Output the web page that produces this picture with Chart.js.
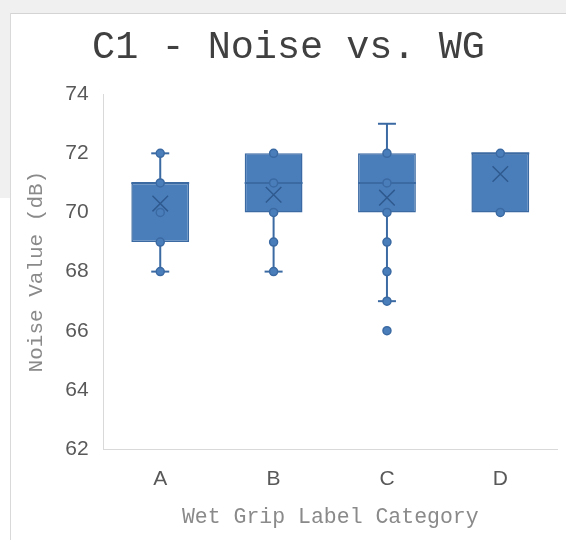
<!DOCTYPE html>
<html>
<head>
<meta charset="utf-8">
<script src="https://cdn.jsdelivr.net/npm/chart.js@4"></script>
<style>
  html, body { margin: 0; padding: 0; width: 566px; height: 540px; overflow: hidden; background: #ffffff; }
  .topband { position: absolute; left: 0; top: 0; width: 566px; height: 13px; background: #f0f0f0; border-bottom: 1px solid #d4d4d4; }
  .leftband { position: absolute; left: 0; top: 0; width: 10px; height: 198px; background: #f0f0f0; }
  .leftedge { position: absolute; left: 10px; top: 13px; width: 1px; height: 527px; background: #d9d9d9; }
  .chartbox { position: absolute; left: 0; top: 0; width: 566px; height: 540px; }
</style>
</head>
<body>
<div class="topband"></div>
<div class="leftband"></div>
<div class="leftedge"></div>
<div class="chartbox"><canvas id="boxChart"></canvas></div>
<script>
const categories = ['A', 'B', 'C', 'D']
const q1 = [69, 70, 70, 70]
const q3 = [71, 72, 72, 72]
const medians = [71, 71, 71, 72]
const whiskerLow = [68, 68, 67, 70]
const whiskerHigh = [72, 72, 73, 72]
const means = [70.3, 70.6, 70.5, 71.3]
const pointsA = [68, 69, 70, 71, 72]
const pointsB = [68, 69, 70, 71, 72]
const pointsC = [66, 67, 68, 69, 70, 71, 72]
const pointsD = [70, 72]
const yTicks = [62, 64, 66, 68, 70, 72, 74]

const boxFill = '#4a7ebb'
const boxLine = '#3b6aa3'

const allPoints = []
;[pointsA, pointsB, pointsC, pointsD].forEach((pts, i) => {
  pts.forEach((v) => allPoints.push({ x: categories[i], y: v }))
})

// whiskers behind the boxes, median lines on top of them
const boxExtras = {
  id: 'boxExtras',
  beforeDatasetsDraw(chart) {
    const ctx = chart.ctx
    const xs = chart.scales.x
    const ys = chart.scales.y
    ctx.save()
    ctx.strokeStyle = boxLine
    ctx.lineWidth = 2
    categories.forEach((c, i) => {
      const x = xs.getPixelForValue(i)
      const segs = [[q3[i], whiskerHigh[i]], [q1[i], whiskerLow[i]]]
      segs.forEach(([a, b]) => {
        if (a === b) return
        ctx.beginPath()
        ctx.moveTo(x, ys.getPixelForValue(a))
        ctx.lineTo(x, ys.getPixelForValue(b))
        ctx.stroke()
        ctx.beginPath()
        ctx.moveTo(x - 9, ys.getPixelForValue(b))
        ctx.lineTo(x + 9, ys.getPixelForValue(b))
        ctx.stroke()
      })
    })
    ctx.restore()
  },
  afterDatasetDraw(chart, args) {
    if (args.meta.type !== 'bar') return
    const ctx = chart.ctx
    const ys = chart.scales.y
    ctx.save()
    ctx.strokeStyle = boxLine
    ctx.lineWidth = 2
    args.meta.data.forEach((bar, i) => {
      const half = bar.width / 2
      const y = ys.getPixelForValue(medians[i])
      ctx.beginPath()
      ctx.moveTo(bar.x - half, y)
      ctx.lineTo(bar.x + half, y)
      ctx.stroke()
    })
    ctx.restore()
  }
}

new Chart(document.getElementById('boxChart').getContext('2d'), {
  type: 'bar',
  data: {
    labels: categories,
    datasets: [
      {
        type: 'line',
        label: 'Mean',
        data: categories.map((c, i) => ({ x: c, y: means[i] })),
        showLine: false,
        pointStyle: 'crossRot',
        pointRadius: 11,
        borderColor: '#2f5a8f',
        borderWidth: 1.5,
        order: 0
      },
      {
        type: 'line',
        label: 'Points',
        data: allPoints,
        showLine: false,
        pointRadius: 4,
        pointBackgroundColor: boxFill,
        pointBorderColor: boxLine,
        pointBorderWidth: 1.5,
        order: 1
      },
      {
        label: 'Box',
        data: categories.map((c, i) => [q1[i], q3[i]]),
        backgroundColor: boxFill,
        borderColor: boxLine,
        borderWidth: 1.5,
        borderSkipped: false,
        categoryPercentage: 1,
        barPercentage: 0.51,
        order: 2
      }
    ]
  },
  options: {
    responsive: true,
    maintainAspectRatio: false,
    animation: false,
    layout: { autoPadding: false, padding: { left: 20, right: 9, bottom: 6 } },
    plugins: {
      legend: { display: false },
      tooltip: { enabled: false },
      title: {
        display: true,
        text: 'C1 - Noise vs. WG',
        color: '#404040',
        font: { family: 'Liberation Mono', size: 38.5, weight: 'normal' },
        padding: { top: 25, bottom: 23 }
      }
    },
    scales: {
      x: {
        grid: { display: false, drawTicks: false },
        border: { color: '#d9d9d9', width: 1 },
        ticks: { color: '#595959', font: { family: 'Liberation Sans', size: 21 }, padding: 18 },
        title: {
          display: true,
          text: 'Wet Grip Label Category',
          color: '#8a8a8a',
          font: { family: 'Liberation Mono', size: 21.5 },
          padding: { top: -6 }
        }
      },
      y: {
        min: 62,
        max: 74,
        afterBuildTicks(scale) { scale.ticks = yTicks.map((v) => ({ value: v })) },
        grid: { display: false, drawTicks: false },
        border: { color: '#d9d9d9', width: 1 },
        ticks: { color: '#595959', font: { family: 'Liberation Sans', size: 21 }, padding: 15 },
        title: {
          display: true,
          text: 'Noise Value (dB)',
          color: '#8a8a8a',
          font: { family: 'Liberation Mono', size: 21 },
          padding: { bottom: 1 }
        }
      }
    }
  },
  plugins: [boxExtras]
});
</script>
</body>
</html>
